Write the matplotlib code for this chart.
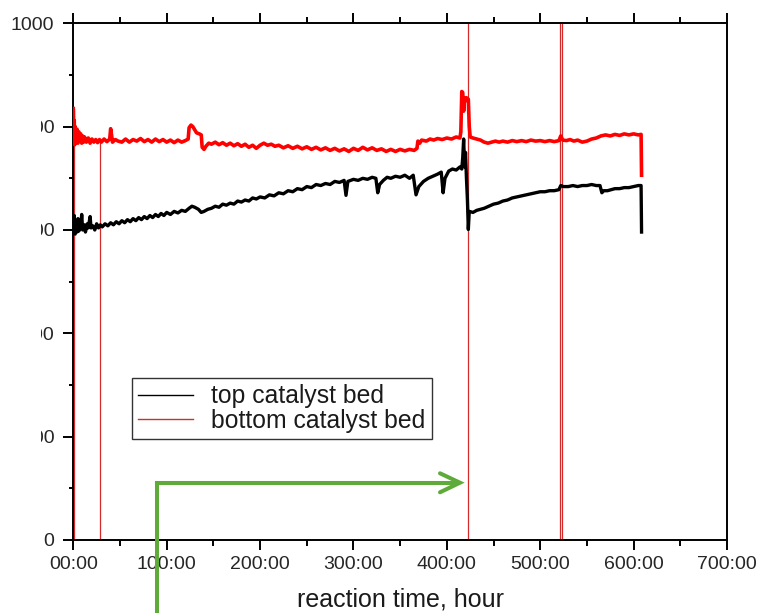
import matplotlib
matplotlib.use("Agg")
import matplotlib.pyplot as plt
from matplotlib.lines import Line2D
from matplotlib.patches import Rectangle
from matplotlib.ticker import MultipleLocator, FuncFormatter

plt.rcParams['font.family'] = ['Liberation Sans', 'DejaVu Sans']

# ---------------- data ----------------
top_t = [0, 1, 2, 3, 4, 5, 6, 8, 9, 10, 12, 13, 15, 16, 18, 19, 21, 23, 25, 27, 29, 31,
         34, 37, 40, 43, 46, 49, 52, 55, 58, 61, 64, 67, 70, 73, 76, 79, 82, 85, 88, 91,
         94, 97, 100, 104, 108, 112, 116, 120, 124, 127, 130, 134, 137, 140, 144, 148,
         152, 156, 160, 164, 168, 172, 176, 180, 184, 188, 192, 196, 200, 205, 210, 215,
         220, 225, 230, 235, 240, 245, 250, 255, 260, 265, 270, 275, 280, 285, 290, 292,
         294, 300, 305, 310, 315, 320, 324, 326, 328, 332, 336, 340, 345, 350, 355, 360,
         364, 367, 370, 375, 380, 385, 390, 394, 396, 398, 402, 406, 410, 414, 416, 417,
         418, 419, 420, 421, 422, 423, 424, 428, 432, 436, 440, 445, 450, 455, 460, 465,
         470, 475, 480, 485, 490, 495, 500, 505, 510, 515, 520, 522, 525, 530, 535, 540,
         545, 550, 555, 560, 564, 566, 568, 572, 576, 580, 585, 590, 595, 600, 605, 608,
         608.5]
top_v = [600, 628, 592, 612, 596, 622, 598, 606, 630, 600, 610, 596, 612, 604, 626, 604,
         608, 600, 612, 604, 610, 606, 612, 608, 614, 610, 616, 612, 618, 614, 620, 616,
         622, 618, 624, 620, 626, 622, 628, 624, 630, 626, 632, 628, 634, 630, 636, 633,
         638, 636, 642, 646, 644, 640, 634, 636, 640, 642, 646, 644, 650, 648, 652, 650,
         656, 654, 658, 656, 662, 660, 664, 662, 668, 666, 672, 670, 676, 674, 680, 678,
         684, 682, 688, 686, 690, 688, 694, 692, 696, 667, 694, 698, 696, 700, 698, 702,
         700, 672, 688, 696, 702, 700, 704, 702, 706, 700, 706, 668, 684, 694, 700, 704,
         708, 712, 672, 700, 714, 718, 716, 722, 718, 740, 776, 722, 750, 700, 660, 601,
         636, 634, 638, 640, 642, 646, 650, 652, 656, 658, 662, 664, 666, 668, 670, 672,
         674, 674, 676, 676, 678, 686, 684, 684, 686, 684, 686, 686, 688, 686, 686, 672,
         676, 676, 678, 680, 680, 682, 682, 684, 686, 686, 596]

bot_t = [0, 0.5, 1, 1.5, 2, 3, 4, 5, 6, 7, 8, 9, 10, 11, 12, 14, 16, 18, 20, 22, 24, 26,
         28, 30, 33, 36, 39, 40, 42, 45, 48, 52, 56, 60, 64, 68, 72, 76, 80, 84, 88, 92,
         96, 100, 104, 108, 112, 116, 120, 123, 124, 126, 128, 130, 132, 135, 137, 138,
         140, 142, 145, 148, 152, 156, 160, 164, 168, 172, 176, 180, 184, 188, 192, 196,
         200, 204, 208, 212, 216, 220, 225, 230, 235, 240, 245, 250, 255, 260, 265, 270,
         275, 280, 285, 290, 295, 300, 305, 310, 315, 320, 325, 330, 335, 340, 345, 350,
         355, 360, 365, 368, 369, 371, 373, 378, 382, 386, 390, 395, 400, 405, 410, 414,
         415, 416, 417, 418, 419, 420, 421, 423, 424, 425, 428, 432, 436, 440, 444, 448,
         452, 456, 460, 465, 470, 475, 480, 485, 490, 495, 500, 505, 510, 515, 520, 522,
         524, 528, 532, 536, 540, 545, 550, 555, 560, 565, 570, 575, 580, 585, 590, 595,
         600, 605, 608, 608.5]
bot_v = [835, 790, 812, 765, 800, 770, 795, 768, 790, 772, 786, 768, 782, 770, 780, 770,
         778, 768, 776, 770, 775, 769, 775, 770, 776, 771, 776, 796, 770, 775, 772, 770,
         776, 770, 775, 772, 777, 771, 775, 770, 776, 771, 775, 770, 774, 769, 774, 770,
         773, 776, 798, 803, 800, 794, 788, 786, 784, 760, 756, 762, 768, 766, 770, 765,
         769, 764, 768, 763, 767, 762, 766, 760, 764, 758, 764, 768, 764, 766, 762, 764,
         759, 763, 758, 762, 757, 761, 756, 760, 755, 759, 754, 758, 753, 757, 752, 758,
         754, 760, 755, 759, 754, 757, 752, 756, 752, 756, 753, 756, 754, 758, 772, 768,
         774, 772, 776, 774, 777, 775, 778, 776, 780, 778, 790, 868, 866, 830, 855, 850,
         856, 853, 800, 780, 778, 776, 774, 770, 768, 770, 772, 770, 772, 770, 773, 771,
         773, 771, 774, 772, 773, 771, 773, 771, 773, 782, 774, 773, 775, 772, 774, 770,
         772, 776, 778, 782, 784, 782, 785, 783, 786, 784, 786, 784, 785, 706]

# sensor glitches of the bottom-bed trace (vertical drop-outs / spikes)
glitch_t = [0.8, 28.6, 422.5, 521.0, 522.8]
glitch_top = [835, 775, 1100, 1100, 1100]

x_ticks = [0, 100, 200, 300, 400, 500, 600, 700]
y_ticks = [0, 200, 400, 600, 800, 1000]
series_labels = ["top catalyst bed", "bottom catalyst bed"]
x_title = "reaction time, hour"

# ---------------- figure ----------------
W, H = 759, 613
fig = plt.figure(figsize=(W / 100, H / 100), dpi=100)
ax = fig.add_axes([73.3 / W, (H - 540) / H, (727 - 73.3) / W, (540 - 23.3) / H])

ax.vlines(glitch_t, 0, glitch_top, color='#d42a2a', lw=0.9, zorder=2)
ax.plot(top_t, top_v, color='black', lw=2.4, zorder=3)
ax.plot(bot_t, bot_v, color='#ff0000', lw=2.6, zorder=3)

ax.set_xlim(0, 700)
ax.set_ylim(0, 1000)
ax.set_xticks(x_ticks)
ax.set_yticks(y_ticks)
ax.xaxis.set_minor_locator(MultipleLocator(50))
ax.yaxis.set_minor_locator(MultipleLocator(100))
ax.xaxis.set_major_formatter(FuncFormatter(lambda v, p: f"{int(round(v)):02d}:00"))

for s in ax.spines.values():
    s.set_linewidth(1.4)
ax.tick_params(axis='both', which='both', direction='out', width=1.4,
               top=True, right=False, labelsize=14, labelcolor='#262626')
ax.tick_params(axis='x', which='major', length=7.2, pad=4)
ax.tick_params(axis='x', which='minor', length=4.3)
ax.tick_params(axis='y', which='major', length=7.2, pad=6.5)
ax.tick_params(axis='y', which='minor', length=3.2)

handles = [Line2D([], [], color='black', lw=1.0),
           Line2D([], [], color='#d42a2a', lw=1.0)]
leg = ax.legend(handles, series_labels, loc='lower left',
                bbox_to_anchor=((132 - 73.3) / (727 - 73.3), (540 - 439) / (540 - 23.3)),
                borderaxespad=0, fontsize=17.8, frameon=True, fancybox=False,
                edgecolor='#333333', framealpha=1, borderpad=0.25, labelspacing=0.02,
                handlelength=2.2, handletextpad=0.75)
leg.get_frame().set_linewidth(1.0)
for t in leg.get_texts():
    t.set_color('#1a1a1a')

fig.text(400.5 / W, 6 / H, x_title, ha='center', va='baseline', fontsize=18,
         color='#1a1a1a')

# white patch that hides the left edge of the y tick labels in the reference
fig.add_artist(Rectangle((0, 0), 41 / W, (H - 40) / H, transform=fig.transFigure,
                         facecolor='white', edgecolor='none', zorder=10))

# green annotation arrow
green = '#5fab3a'
fig.add_artist(Line2D([156.7 / W, 156.7 / W, 458 / W],
                      [0, 1 - 482.7 / H, 1 - 482.7 / H],
                      transform=fig.transFigure, color=green, lw=2.9,
                      solid_joinstyle='miter', solid_capstyle='butt', zorder=11))
fig.add_artist(Line2D([440 / W, 460 / W, 440 / W],
                      [1 - 473.3 / H, 1 - 482.7 / H, 1 - 492.3 / H],
                      transform=fig.transFigure, color=green, lw=2.9,
                      solid_joinstyle='miter', solid_capstyle='round', zorder=11))

fig.savefig("out.png", dpi=100)
